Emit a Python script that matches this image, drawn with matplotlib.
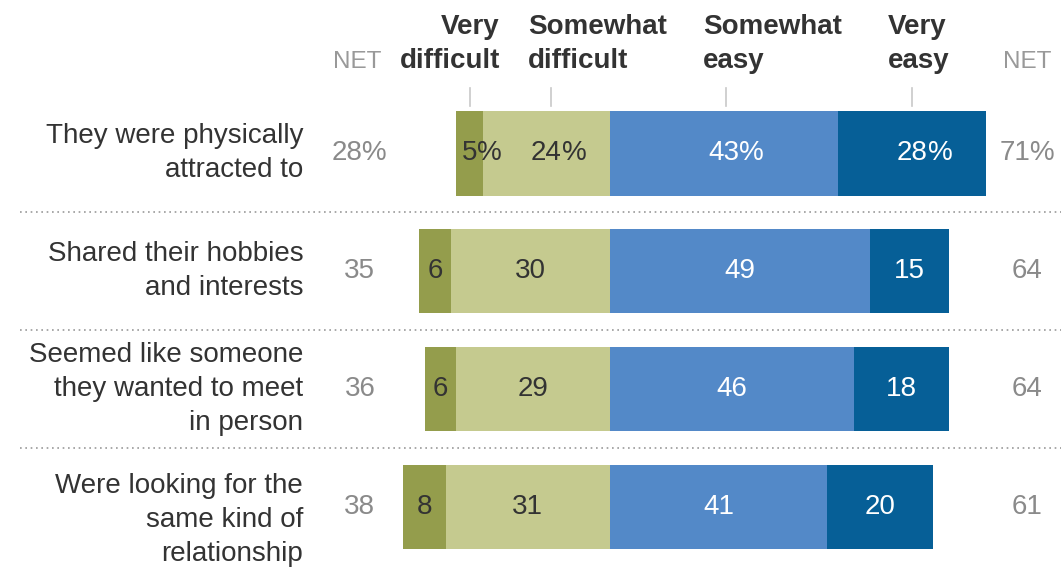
import matplotlib.pyplot as plt

categories = [
    'They were physically\nattracted to',
    'Shared their hobbies\nand interests',
    'Seemed like someone\nthey wanted to meet\nin person',
    'Were looking for the\nsame kind of\nrelationship',
]
very_difficult = [5, 6, 6, 8]
somewhat_difficult = [24, 30, 29, 31]
somewhat_easy = [43, 49, 46, 41]
very_easy = [28, 15, 18, 20]
net_difficult = [28, 35, 36, 38]
net_easy = [71, 64, 64, 61]

headers = ['Very\ndifficult', 'Somewhat\ndifficult', 'Somewhat\neasy', 'Very\neasy']
colors = ['#949d4c', '#c5ca8f', '#5389c8', '#065f97']
text_colors = ['#333333', '#333333', 'white', 'white']

plt.rcParams['font.family'] = ['Liberation Sans', 'DejaVu Sans']

fig = plt.figure(figsize=(10.64, 5.68), dpi=100)
ax = fig.add_axes([0, 0, 1, 1])
ax.set_xlim(-115.1, 85.66)
ax.set_ylim(3.517, -1.297)
ax.axis('off')

bar_h = 0.72
for i in range(len(categories)):
    vd, sd, se, ve = very_difficult[i], somewhat_difficult[i], somewhat_easy[i], very_easy[i]
    lefts = [-(vd + sd), -sd, 0, se]
    widths = [vd, sd, se, ve]
    vals = [vd, sd, se, ve]
    for j in range(4):
        ax.barh(i, widths[j], left=lefts[j], height=bar_h, color=colors[j], edgecolor='none')
        cx = lefts[j] + widths[j] / 2
        t = ax.text(cx, i, str(vals[j]), ha='center', va='center', fontsize=20,
                    color=text_colors[j])
        if i == 0:
            ax.annotate('%', xy=(1, 0), xycoords=t, ha='left', va='bottom',
                        fontsize=20, color=text_colors[j])

    dy = 0.11 if i == 3 else 0
    ax.text(-57.9, i + dy, categories[i], ha='right', va='center', fontsize=20,
            color='#333333', linespacing=1.4)
    left_net = f'{net_difficult[i]}%' if i == 0 else str(net_difficult[i])
    right_net = f'{net_easy[i]}%' if i == 0 else str(net_easy[i])
    ax.text(-47.2, i, left_net, ha='center', va='center', fontsize=20, color='#8a8a8a')
    ax.text(78.7, i, right_net, ha='center', va='center', fontsize=20, color='#8a8a8a')

# separators
for y in [0.5, 1.5, 2.5]:
    ax.plot([-111.3, 85], [y, y], color='#999999', linestyle=(0, (1, 2.2)), linewidth=1.2)

# column headers
header_x = [-20.8, -15.5, 17.5, 52.5]
header_ha = ['right', 'left', 'left', 'left']
for h, x, ha in zip(headers, header_x, header_ha):
    ax.text(x, -0.92, h, ha=ha, va='center', multialignment=ha, fontsize=20,
            fontweight='bold', color='#333333', linespacing=1.4)

tick_x = [-26.4, -11.1, 21.9, 57.0]
for x in tick_x:
    ax.plot([x, x], [-0.551, -0.398], color='#c8c8c8', linewidth=1.2)

ax.text(-47.7, -0.77, 'NET', ha='center', va='center', fontsize=17.5, color='#999999')
ax.text(78.7, -0.77, 'NET', ha='center', va='center', fontsize=17.5, color='#999999')

fig.savefig('out.png', dpi=100)
